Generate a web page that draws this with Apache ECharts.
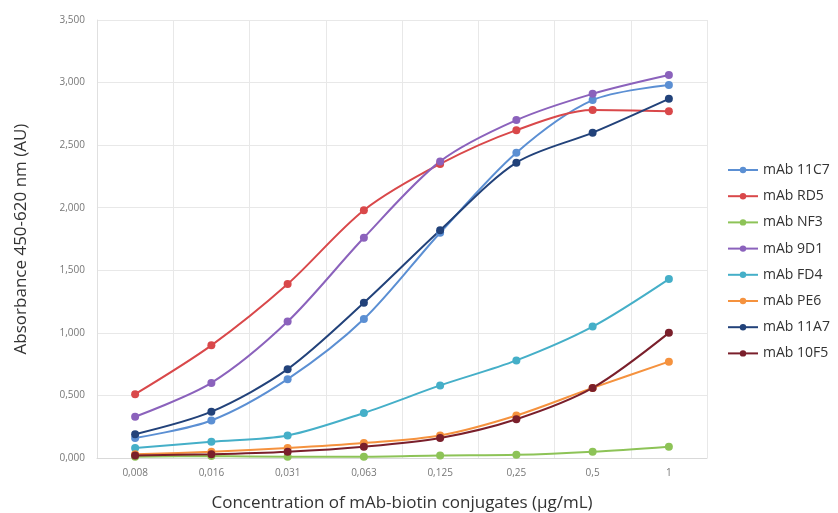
<!DOCTYPE html>
<html>
<head>
<meta charset="utf-8">
<script src="https://cdn.jsdelivr.net/npm/echarts@6/dist/echarts.min.js"></script>
<style>html,body{margin:0;padding:0;background:#fff}#c{width:838px;height:513px}</style>
</head>
<body>
<div id="c"></div>
<script>
var categories = ['0,008','0,016','0,031','0,063','0,125','0,25','0,5','1'];
var seriesNames = ['mAb 11C7','mAb RD5','mAb NF3','mAb 9D1','mAb FD4','mAb PE6','mAb 11A7','mAb 10F5'];
var mAb11C7 = [0.16,0.30,0.63,1.11,1.80,2.44,2.86,2.98];
var mAbRD5  = [0.51,0.90,1.39,1.98,2.35,2.62,2.78,2.77];
var mAbNF3  = [0.01,0.015,0.01,0.01,0.02,0.025,0.05,0.09];
var mAb9D1  = [0.33,0.60,1.09,1.76,2.37,2.70,2.91,3.06];
var mAbFD4  = [0.08,0.13,0.18,0.36,0.58,0.78,1.05,1.43];
var mAbPE6  = [0.03,0.05,0.08,0.12,0.18,0.34,0.56,0.77];
var mAb11A7 = [0.19,0.37,0.71,1.24,1.82,2.36,2.60,2.87];
var mAb10F5 = [0.02,0.03,0.05,0.09,0.16,0.31,0.56,1.00];
var seriesData = [mAb11C7,mAbRD5,mAbNF3,mAb9D1,mAbFD4,mAbPE6,mAb11A7,mAb10F5];
var colors = ['#5B8FD3','#D9484A','#8DC357','#8B62BC','#45AFC8','#F5923E','#22427A','#7A1F2B'];

var chart = echarts.init(document.getElementById('c'));
chart.setOption({
  animation: false,
  color: colors,
  grid: {left: 97, right: 131, top: 20, bottom: 55, containLabel: false, outerBoundsMode: 'none'},
  legend: {
    orient: 'vertical', left: 722, top: 158, itemGap: 12.2,
    itemWidth: 30, itemHeight: 8,
    textStyle: {fontFamily: 'Open Sans', fontSize: 14, color: '#333'},
    data: seriesNames
  },
  xAxis: {
    type: 'category', data: categories, boundaryGap: true,
    name: 'Concentration of mAb-biotin conjugates (µg/mL)',
    nameLocation: 'middle', nameGap: 37,
    nameTextStyle: {fontFamily: 'Open Sans', fontSize: 17, color: '#333'},
    axisLine: {lineStyle: {color: '#d9d9d9'}},
    axisTick: {show: false},
    axisLabel: {fontFamily: 'Open Sans', fontSize: 10, color: '#777', margin: 10},
    splitLine: {show: true, lineStyle: {color: '#e8e8e8'}}
  },
  yAxis: {
    type: 'value', min: 0, max: 3.5, interval: 0.5,
    name: 'Absorbance 450-620 nm (AU)',
    nameLocation: 'middle', nameGap: 67,
    nameTextStyle: {fontFamily: 'Open Sans', fontSize: 17, color: '#333'},
    axisLine: {show: true, lineStyle: {color: '#e0e0e0'}},
    axisTick: {show: false},
    axisLabel: {fontFamily: 'Open Sans', fontSize: 10, color: '#777', margin: 12,
      formatter: function(v){ return v.toFixed(3).replace('.', ','); }},
    splitLine: {show: true, lineStyle: {color: '#e8e8e8'}}
  },
  series: seriesNames.map(function(n, i){
    return {
      name: n, type: 'line', data: seriesData[i], smooth: 0.3,
      symbol: 'circle', symbolSize: 8,
      lineStyle: {width: 2}
    };
  })
});
</script>
</body>
</html>
